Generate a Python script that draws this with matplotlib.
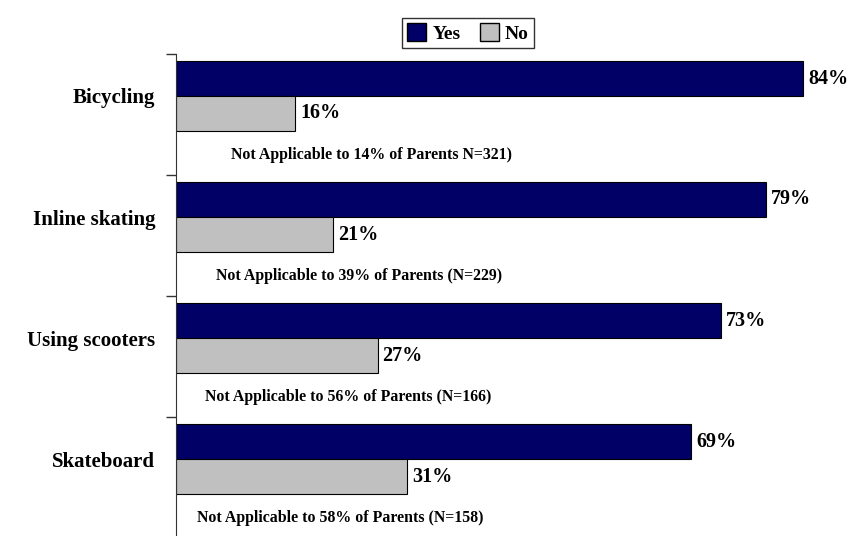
import numpy as np
import matplotlib
matplotlib.use("Agg")
import matplotlib.pyplot as plt
from matplotlib.patches import Patch

plt.rcParams['font.family'] = ['Liberation Serif', 'DejaVu Serif']
plt.rcParams['font.weight'] = 'bold'

activities = ['Bicycling', 'Inline skating', 'Using scooters', 'Skateboard']
yes_pct = [84, 79, 73, 69]
no_pct = [16, 21, 27, 31]
notes = ['Not Applicable to 14% of Parents N=321)',
         'Not Applicable to 39% of Parents (N=229)',
         'Not Applicable to 56% of Parents (N=166)',
         'Not Applicable to 58% of Parents (N=158)']

navy = '#000066'
grey = '#c0c0c0'

W, H = 854, 536
fig = plt.figure(figsize=(W / 100, H / 100), dpi=100)

# axes: left spine at x=176px, top at y=54px, 121px per category
px_per_pct = (803 - 176) / 84.0
left_px, top_px, cat_px = 176, 54, 121
ax_w = W - left_px
ax_h = 4 * cat_px
ax = fig.add_axes([left_px / W, 1 - (top_px + ax_h) / H, ax_w / W, ax_h / H])
ax.set_xlim(0, ax_w / px_per_pct)
ax.set_ylim(4, 0)

idx = np.arange(len(activities))
bh = 35 / cat_px
yes_y = idx + 7 / cat_px + bh / 2
no_y = idx + 42 / cat_px + bh / 2

ax.barh(yes_y, yes_pct, height=bh, color=navy, edgecolor='black', linewidth=0.8)
ax.barh(no_y, no_pct, height=bh, color=grey, edgecolor='black', linewidth=0.8)

off = 5 / px_per_pct
for y, v in zip(yes_y, yes_pct):
    ax.text(v + off, y, f'{v}%', va='center', ha='left', fontsize=14.5, fontweight='bold')
for y, v in zip(no_y, no_pct):
    ax.text(v + off, y, f'{v}%', va='center', ha='left', fontsize=14.5, fontweight='bold')

note_x = [231, 216, 205, 197]
for i, (t, xp) in enumerate(zip(notes, note_x)):
    ax.text((xp - left_px) / px_per_pct, i + 101 / cat_px, t, va='center', ha='left',
            fontsize=11.4, fontweight='bold')

# category labels between the bars, tick marks on the boundaries
ax.set_yticks(idx + 42 / cat_px)
ax.set_yticklabels(activities, fontsize=15, fontweight='bold')
ax.tick_params(axis='y', which='major', length=0, pad=15)
ax.set_yticks(np.arange(0, 5), minor=True)
ax.tick_params(axis='y', which='minor', length=7, width=1, color='#333333')
ax.set_xticks([])
for s in ['top', 'right', 'bottom']:
    ax.spines[s].set_visible(False)
ax.spines['left'].set_color('#333333')

handles = [Patch(facecolor=navy, edgecolor='black', label='Yes'),
           Patch(facecolor=grey, edgecolor='black', label='No')]
fig.legend(handles=handles, loc='center', bbox_to_anchor=(468 / W, 1 - 33 / H),
           ncol=2, frameon=True, fancybox=False, edgecolor='black',
           prop={'size': 14, 'weight': 'bold'}, handlelength=1.0, handleheight=1.0,
           handletextpad=0.3, columnspacing=1.0, borderpad=0.25, borderaxespad=0)

fig.savefig('out.png', dpi=100)
